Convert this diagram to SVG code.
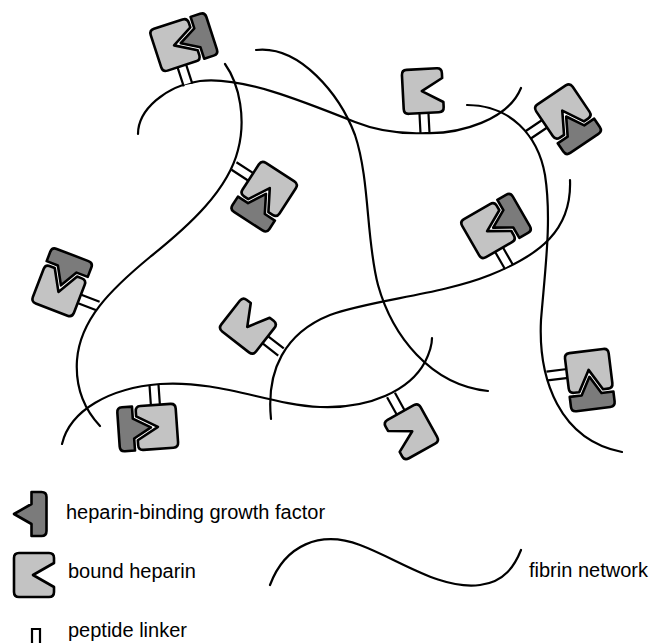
<svg xmlns="http://www.w3.org/2000/svg" xmlns:xlink="http://www.w3.org/1999/xlink" width="649" height="643" viewBox="0 0 649 643">
  <style>
    .fibrin { fill: none; stroke: #000; stroke-width: 2.2; stroke-linecap: round; }
    .heparin { fill: #c3c3c3; stroke: #000; stroke-width: 2.6; stroke-linejoin: round; }
    .gf { fill: #7b7b7b; stroke: #000; stroke-width: 2.6; stroke-linejoin: round; }
    .link-fill { fill: #fff; stroke: none; }
    .link-line { fill: none; stroke: #000; stroke-width: 2.2; }
    .label { font-family: "Liberation Sans", Arial, sans-serif; font-size: 20px; fill: #000; }
  </style>
  <defs>
    <!-- bound heparin block: notch on the right, linker side at the bottom (local origin = fibrin attachment) -->
    <path id="heparin" class="heparin" d="M-15,-64 H15 Q20,-64 20,-59 V-54 L-1,-42 L20,-30 V-25 Q20,-20 15,-20 H-15 Q-20,-20 -20,-25 V-59 Q-20,-64 -15,-64 Z"/>
    <!-- growth factor sitting in the heparin notch -->
    <path id="gf" class="gf" d="M23.5,-64 H33.5 Q38.5,-64 38.5,-59 V-25 Q38.5,-20 33.5,-20 H23.5 V-32 L6,-42 L23.5,-52 Z"/>
    <!-- peptide linker between heparin block and fibrin strand -->
    <g id="linker">
      <rect class="link-fill" x="-4.5" y="-21" width="9" height="19.5"/>
      <path class="link-line" d="M-4.5,-21 V0 M4.5,-21 V0"/>
    </g>
  </defs>

  <!-- fibrin strands -->
  <g id="fibrin-network">
    <path class="fibrin" d="M138,134 C138,110 165,86 200,81 C240,76 300,100 355,122 C380,132 405,134 426,133 C460,134 508,120 521,88"/>
    <path class="fibrin" d="M225,64 C240,85 246,120 238,150 C228,190 190,225 150,257 C110,290 80,320 77,360 C75,390 85,410 100,426"/>
    <path class="fibrin" d="M256,50 C300,45 340,95 355,135 C370,180 366,240 378,285 C392,335 430,385 488,391"/>
    <path class="fibrin" d="M467,105 C510,105 538,135 545,175 C552,220 545,270 541,320 C538,380 560,440 622,452"/>
    <path class="fibrin" d="M570,180 C572,230 540,255 490,275 C440,295 370,300 330,315 C285,333 266,370 271,419"/>
    <path class="fibrin" d="M62,444 C70,410 110,388 160,384 C220,380 270,405 320,407 C370,409 410,390 425,362 C430,352 432,345 432,338"/>
  </g>

  <!-- heparin-bearing nodes attached to the strands -->
  <g id="node-1" transform="translate(188,85) rotate(-18)">
    <use xlink:href="#linker"/><use xlink:href="#heparin"/><use xlink:href="#gf"/>
  </g>
  <g id="node-2" transform="translate(425,133) rotate(-3)">
    <use xlink:href="#linker"/><use xlink:href="#heparin"/>
  </g>
  <g id="node-3" transform="translate(528,135) rotate(56)">
    <use xlink:href="#linker"/><use xlink:href="#heparin"/><use xlink:href="#gf"/>
  </g>
  <g id="node-4" transform="translate(234,166) rotate(123)">
    <use xlink:href="#linker"/><use xlink:href="#heparin"/><use xlink:href="#gf"/>
  </g>
  <g id="node-5" transform="translate(509,267) rotate(-30)">
    <use xlink:href="#linker"/><use xlink:href="#heparin"/><use xlink:href="#gf"/>
  </g>
  <g id="node-6" transform="translate(98,306) rotate(-69)">
    <use xlink:href="#linker"/><use xlink:href="#heparin"/><use xlink:href="#gf"/>
  </g>
  <g id="node-7" transform="translate(281,352) rotate(-52)">
    <use xlink:href="#linker"/><use xlink:href="#heparin"/>
  </g>
  <g id="node-8" transform="translate(547,376) rotate(83)">
    <use xlink:href="#linker"/><use xlink:href="#heparin"/><use xlink:href="#gf"/>
  </g>
  <g id="node-9" transform="translate(154,385) rotate(176)">
    <use xlink:href="#linker"/><use xlink:href="#heparin"/><use xlink:href="#gf"/>
  </g>
  <g id="node-10" transform="translate(391,395) rotate(151)">
    <use xlink:href="#linker"/><use xlink:href="#heparin"/>
  </g>

  <!-- legend -->
  <g id="legend">
    <g id="legend-gf" transform="translate(8,556)"><use xlink:href="#gf"/></g>
    <text class="label" x="66" y="519">heparin-binding growth factor</text>
    <g id="legend-heparin" transform="translate(34,617)"><use xlink:href="#heparin"/></g>
    <text class="label" x="68" y="578">bound heparin</text>
    <path id="legend-fibrin" class="fibrin" d="M270,585 C285,545 320,530 360,545 C400,560 440,590 480,585 C505,582 515,565 521,550"/>
    <text class="label" x="529" y="577">fibrin network</text>
    <path id="legend-linker" class="link-line" d="M32,645 V629 H40 V645"/>
    <text class="label" x="68" y="637">peptide linker</text>
  </g>
</svg>
